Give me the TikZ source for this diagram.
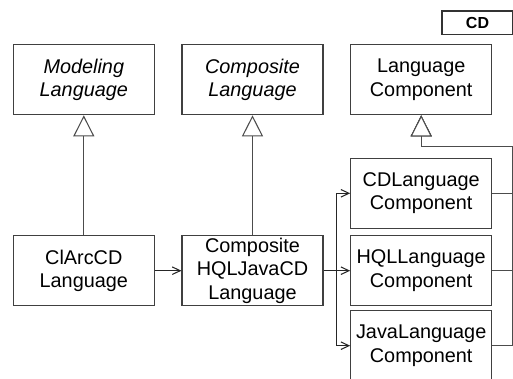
\documentclass[tikz,border=0pt]{standalone}
\usepackage{fontspec}
\setmainfont{Liberation Sans}
\usetikzlibrary{arrows.meta}
\tikzset{
	klasse/.style={draw=black!75, line width=0.6pt, minimum width=2.82cm, minimum height=1.4cm, inner sep=1pt, align=center, font=\fontsize{11.3}{13.2}\selectfont},
	erbt/.style={draw=black!70, line width=0.6pt, -{Triangle[open, length=0.42cm, width=0.42cm, fill=white]}},
	nutzt/.style={draw=black!85, line width=0.6pt, -{Straight Barb[length=0.16cm, width=0.15cm]}}
}

\begin{document}
\begin{tikzpicture}[x=0.02cm, y=-0.02cm]
		%%%%% START %%%%%
		\useasboundingbox (0, 0) rectangle (513, 378);
		
		% Rahmen-Reiter
		\draw[black!80, line width=0.6pt] (442, 11) rectangle (512.6, 34.3);
		\node[font=\fontsize{9.1}{10}\selectfont\bfseries] (cdtab) at (477.5, 23) {CD};
		
		% obere Reihe
		\node[klasse] (modlang) at (83.8, 79.8) {\itshape Modeling\\\itshape Language};
		\node[klasse] (complang) at (252.5, 79.8) {\itshape Composite\\\itshape Language};
		\node[klasse] (langcomp) at (421.2, 79.8) {Language\\Component};
		
		% untere Reihe
		\node[klasse] (clarccd) at (83.8, 270.7) {ClArcCD\\Language};
		\node[klasse] (hqljavacd) at (252.5, 270.7) {Composite\\HQLJavaCD\\Language};
		\node[klasse] (cdcomp) at (421.2, 193.3) {CDLanguage\\Component};
		\node[klasse] (hqlcomp) at (421.2, 270.7) {HQLLanguage\\Component};
		\node[klasse] (javacomp) at (421.2, 345.7) {JavaLanguage\\Component};
		
		\coordinate (gabel) at (336.7, 270.7);
		\coordinate (stamm) at (512.3, 146.7);
		
		% Vererbung
		\draw[erbt] (clarccd.north) -- (modlang.south);
		\draw[erbt] (hqljavacd.north) -- (complang.south);
		\draw[erbt] (cdcomp.east) -| (stamm) -| (langcomp.south);
		\draw[erbt] (hqlcomp.east) -| (stamm) -| (langcomp.south);
		\draw[erbt] (javacomp.east) -| (stamm) -| (langcomp.south);
		
		% Abhaengigkeiten
		\draw[nutzt] (clarccd) -- (hqljavacd);
		\draw[nutzt] (hqljavacd.east) -- (gabel) |- (cdcomp.west);
		\draw[nutzt] (gabel) -- (hqlcomp.west);
		\draw[nutzt] (gabel) |- (javacomp.west);
		%%%%% END %%%%%
	\end{tikzpicture}
\end{document}
